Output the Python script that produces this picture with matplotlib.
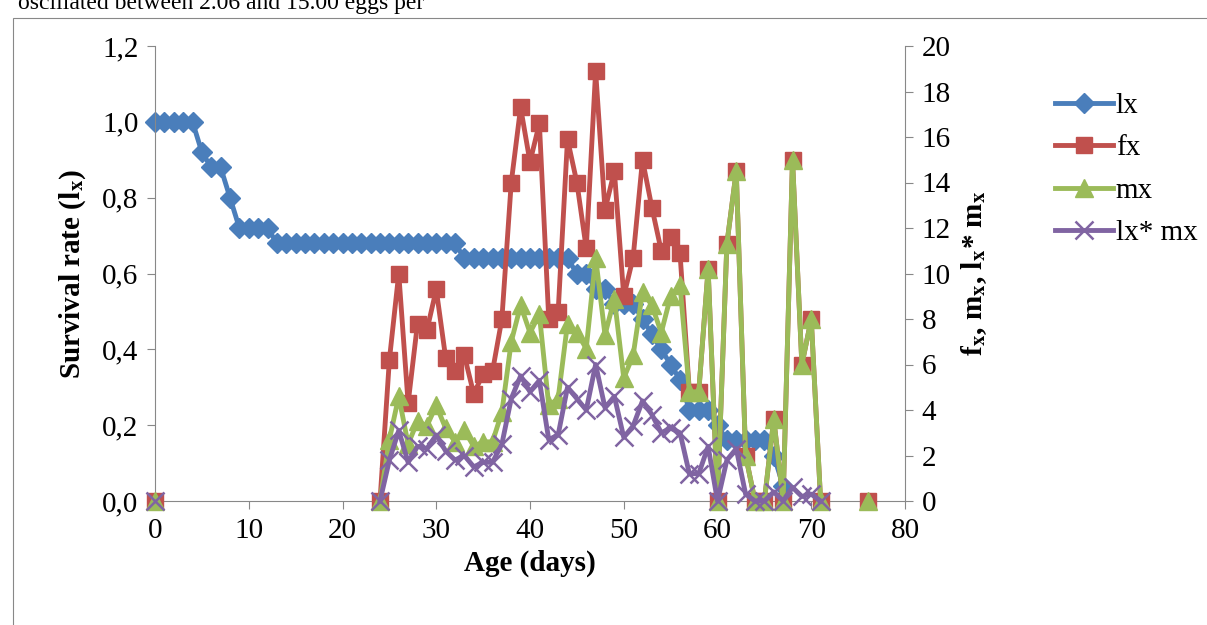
import matplotlib
matplotlib.use("Agg")
import matplotlib.pyplot as plt
import numpy as np

plt.rcParams['font.family'] = ['Liberation Serif', 'DejaVu Serif']
plt.rcParams['mathtext.fontset'] = 'stix'

nan = np.nan
# survival rate lx, days 0..67
lx_days = list(range(0, 68))
lx = [1.0]*5 + [0.92, 0.88, 0.88, 0.80, 0.72, 0.72, 0.72, 0.72] + [0.68]*20 + [0.64]*12 + \
     [0.60, 0.60, 0.56, 0.56, 0.52, 0.52, 0.52, 0.48, 0.44, 0.40, 0.36, 0.32, 0.24, 0.24, 0.24,
      0.20, 0.16, 0.16, 0.16, 0.16, 0.16, 0.12, 0.04]

# nan entries break the line between isolated points
days = [0, 12] + list(range(24, 72)) + [73, 76]
fx = [0, nan, 0, 6.2, 10.0, 4.3, 7.8, 7.5, 9.3, 6.3, 5.7, 6.4, 4.7, 5.6, 5.7, 8.0, 14.0, 17.3, 14.9,
      16.6, 8.0, 8.3, 15.9, 14.0, 11.1, 18.9, 12.8, 14.5, 9.0, 10.7, 15.0, 12.9, 11.0, 11.6, 10.9,
      4.8, 4.8, 10.2, 0, 11.3, 14.5, 2.0, 0, 0, 3.6, 0, 15.0, 6.0, 8.0, 0, nan, 0]
mx = [0, nan, 0, 2.7, 4.6, 2.5, 3.5, 3.3, 4.2, 3.2, 2.6, 3.1, 2.4, 2.6, 2.6, 3.9, 7.0, 8.6, 7.4,
      8.2, 4.2, 4.5, 7.8, 7.4, 6.7, 10.7, 7.3, 8.9, 5.4, 6.4, 9.2, 8.6, 7.4, 9.0, 9.5,
      4.8, 4.8, 10.2, 0, 11.3, 14.5, 2.0, 0, 0, 3.6, 0, 15.0, 6.0, 8.0, 0, nan, 0]
lxmx = [0, nan, 0, 1.8, 3.1, 1.7, 2.4, 2.3, 2.9, 2.2, 1.8, 2.0, 1.5, 1.7, 1.7, 2.5, 4.5, 5.5, 4.8,
        5.3, 2.7, 2.9, 5.0, 4.5, 4.0, 6.0, 4.1, 4.6, 2.8, 3.3, 4.4, 3.8, 3.0, 3.2, 3.0,
        1.2, 1.2, 2.4, 0, 1.8, 2.3, 0.3, 0, 0, 0.4, 0, 0.6, 0.2, 0.3, 0, nan, nan]

fig = plt.figure(figsize=(12.07, 6.25), dpi=100)
fig.text(0.015, 0.995, "oscillated between 2.06 and 15.00 eggs per", fontsize=17, va='center')
fig.patches.append(plt.Rectangle((0.011, -0.01), 1.0, 0.982, transform=fig.transFigure,
                                 fill=False, edgecolor='#888888', lw=0.8))

ax = fig.add_axes([155/1207, 1-501/625, 750/1207, 455/625])
ax2 = ax.twinx()

blue, red, green, purple = '#4a7ebb', '#c0504d', '#9bbb59', '#8064a2'
l1, = ax.plot(lx_days, lx, color=blue, lw=3.5, marker='D', ms=10, label='lx', clip_on=False)
l2, = ax2.plot(days, fx, color=red, lw=3.5, marker='s', ms=12, label='fx', clip_on=False)
l3, = ax2.plot(days, mx, color=green, lw=3.5, marker='^', ms=13, label='mx', clip_on=False)
l4, = ax2.plot(days, lxmx, color=purple, lw=3.5, marker='x', ms=13, mew=1.8, label='lx* mx',
               clip_on=False)

ax.set_xlim(0, 80)
ax.set_xticks(range(0, 81, 10))
ax.set_ylim(0, 1.2)
ticks = np.arange(0, 1.21, 0.2)
ax.set_yticks(ticks)
ax.set_yticklabels([f"{v:.1f}".replace('.', ',') for v in ticks])
ax2.set_ylim(0, 20)
ax2.set_yticks(range(0, 21, 2))
for a in (ax, ax2):
    a.tick_params(labelsize=21, direction='out', length=6, color='#888888', pad=6)
    for s in a.spines.values():
        s.set_visible(False)
for s in (ax.spines['left'], ax.spines['bottom'], ax2.spines['right']):
    s.set_visible(True)
    s.set_color('#888888')

ax.set_xlabel('Age (days)', fontsize=21, fontweight='bold', labelpad=4)
ax.set_ylabel(r'Survival rate (l$_\mathbf{x}$)', fontsize=21, fontweight='bold', labelpad=10)
ax2.set_ylabel(r'f$_\mathbf{x}$, m$_\mathbf{x}$, l$_\mathbf{x}$* m$_\mathbf{x}$', fontsize=21,
               fontweight='bold', labelpad=6)

fig.legend(handles=[l1, l2, l3, l4], loc='upper left', bbox_to_anchor=(1040/1207, 1-78/625),
           frameon=False, fontsize=21, handlelength=2.0, labelspacing=0.55,
           handletextpad=0.1, borderpad=0)
fig.savefig('out.png', dpi=100)
